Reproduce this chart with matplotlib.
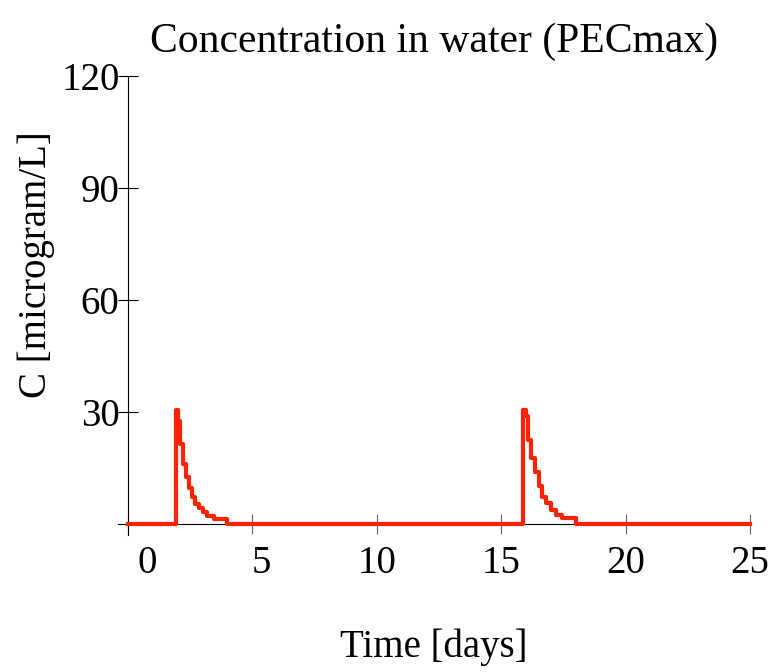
import matplotlib
matplotlib.use('Agg')
import matplotlib.pyplot as plt
import matplotlib.transforms as mtransforms

plt.rcParams['font.family'] = 'Liberation Serif'

# step times [days] and concentrations [microgram/L]
peak1_t = [1.92, 2.00, 2.08, 2.22, 2.34, 2.46, 2.58, 2.70, 2.86, 3.00, 3.16, 3.46, 3.98]
peak1_v = [30.5, 27.5, 21.5, 16.0, 12.5, 9.6, 7.2, 5.3, 4.2, 3.1, 2.2, 1.2, 0]
peak2_t = [15.88, 15.98, 16.06, 16.20, 16.34, 16.50, 16.66, 16.80, 17.00, 17.20, 17.46, 18.00]
peak2_v = [30.5, 29.0, 22.5, 17.7, 14.0, 10.0, 7.3, 5.5, 3.7, 2.4, 1.5, 0]

t = [0] + peak1_t + peak2_t + [25]
c = [0] + peak1_v + peak2_v + [0]

xticks = [0, 5, 10, 15, 20, 25]
yticks = [30, 60, 90, 120]

fig = plt.figure(figsize=(7.83, 6.72), dpi=100)
ax = fig.add_axes([118 / 783, 1 - 535 / 672, (750 - 118) / 783, (535 - 76) / 672])

ax.plot(t, c, drawstyle='steps-post', color='#ff2200', lw=3, clip_on=False, zorder=3)

ax.set_xlim(-0.4, 25)
ax.set_ylim(-3, 120)
ax.spines['top'].set_visible(False)
ax.spines['right'].set_visible(False)
ax.spines['left'].set_position(('data', 0))
ax.spines['bottom'].set_position(('data', 0))

ax.set_xticks(xticks)
ax.set_yticks(yticks)
ax.tick_params(axis='x', direction='inout', length=14, color='#666666', labelsize=28, pad=8)
ax.tick_params(axis='y', direction='inout', length=14, color='black', labelsize=28, pad=-1)

# single digit labels sit a bit right of their ticks in the reference
for lab, dx in zip(ax.get_xticklabels()[:2], [14, 6.5]):
    lab.set_transform(lab.get_transform() + mtransforms.ScaledTranslation(dx / 72, 0, fig.dpi_scale_trans))

ax.set_title('Concentration in water (PECmax)', fontsize=30, pad=17)
ax.set_xlabel('Time [days]', fontsize=28, labelpad=34)
ax.set_ylabel('C [microgram/L]', fontsize=28)
ax.yaxis.set_label_coords(-0.1, 0.59)

fig.savefig('out.png', dpi=100)
